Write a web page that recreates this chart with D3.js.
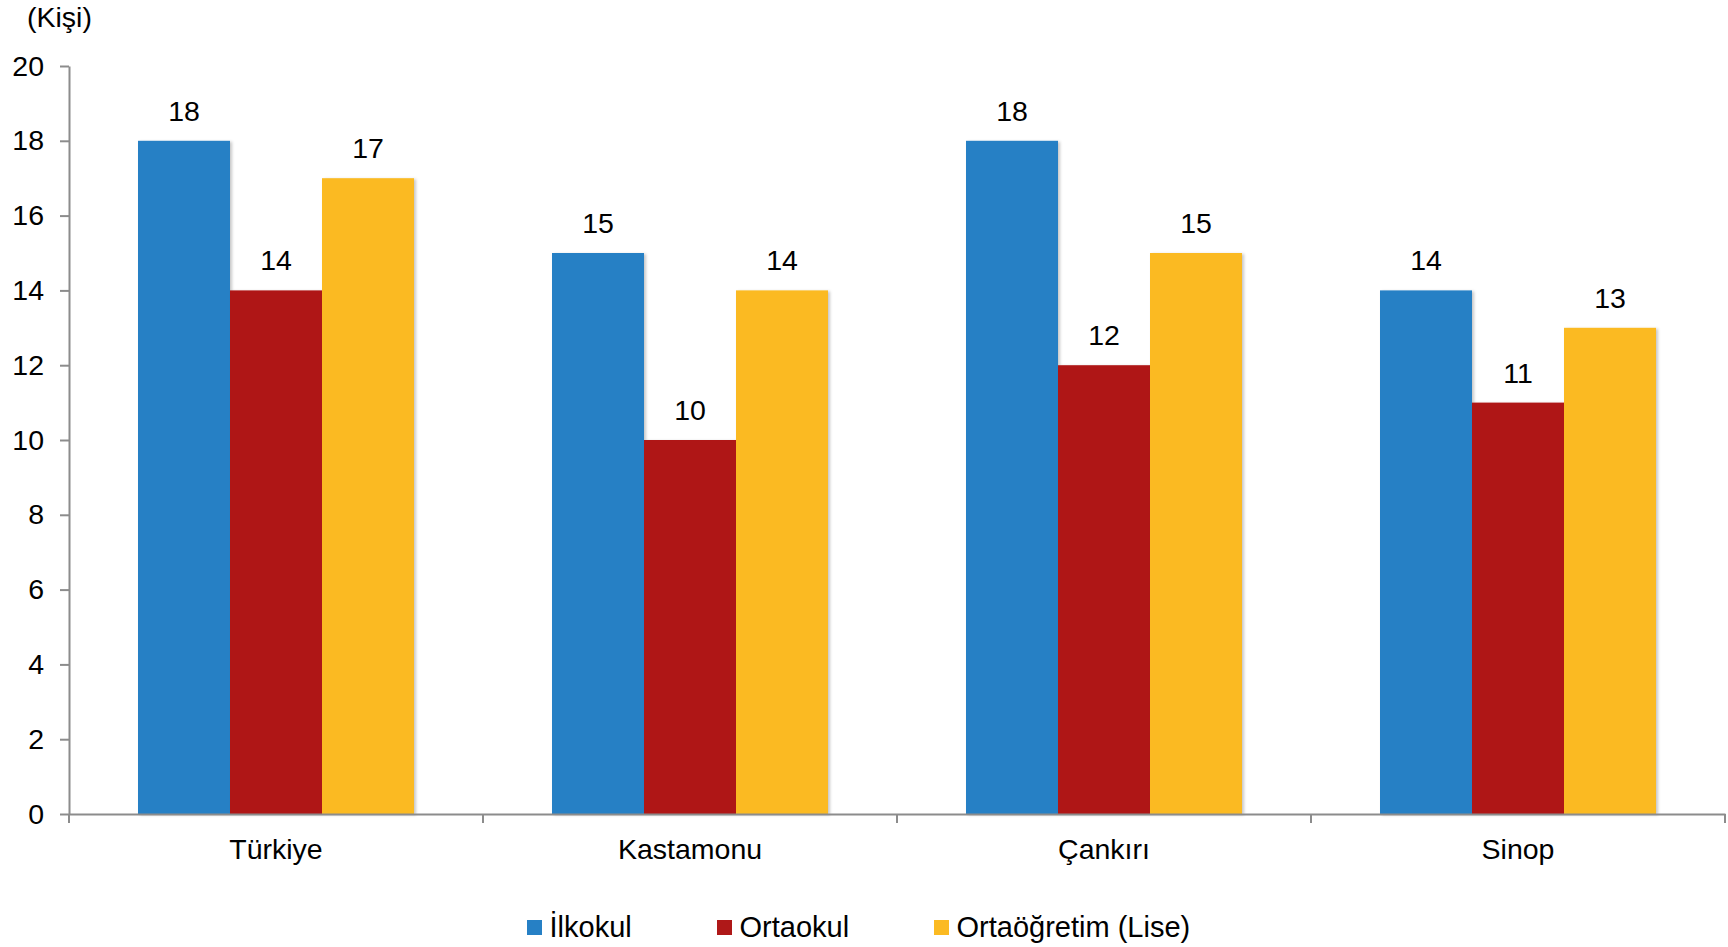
<!DOCTYPE html>
<html>
<head>
<meta charset="utf-8">
<script src="https://cdn.jsdelivr.net/npm/d3@7"></script>
<style>
  html, body { margin: 0; padding: 0; background: #fff; }
  svg { display: block; font-family: "Liberation Sans", Arial, sans-serif; }
</style>
</head>
<body>
<svg id="chart" width="1728" height="947"></svg>
<script>
const categories = ["Türkiye", "Kastamonu", "Çankırı", "Sinop"];
const seriesNames = ["İlkokul", "Ortaokul", "Ortaöğretim (Lise)"];
const ilkokul = [18, 15, 18, 14];
const ortaokul = [14, 10, 12, 11];
const ortaogretim = [17, 14, 15, 13];
const yTicks = [0, 2, 4, 6, 8, 10, 12, 14, 16, 18, 20];
const colors = ["#2680C5", "#AF1818", "#FBBA22"];
const unitLabel = "(Kişi)";

const seriesValues = [ilkokul, ortaokul, ortaogretim];
const rows = categories.map((c, i) => ({
  cat: c,
  vals: seriesNames.map((s, j) => ({ key: s, value: seriesValues[j][i], idx: j }))
}));

const svg = d3.select("#chart");
const axisColor = "#8C8C8C";
const fontSize = 28.5;

const x0 = d3.scaleBand().domain(categories).range([69, 1725]).padding(0);
const bw = x0.bandwidth();
const x1 = d3.scaleBand().domain(seriesNames).range([bw / 6, bw * 5 / 6]).padding(0);
const y = d3.scaleLinear().domain([0, 20]).range([814, 66]);

const defs = svg.append("defs");
const f = defs.append("filter").attr("id", "shadow").attr("x", "-10%").attr("y", "-10%").attr("width", "130%").attr("height", "130%");
f.append("feDropShadow").attr("dx", 2).attr("dy", 1).attr("stdDeviation", 1.5)
  .attr("flood-color", "#000").attr("flood-opacity", 0.22);

// Bars
const groups = svg.append("g").selectAll("g").data(rows).join("g")
  .attr("transform", d => `translate(${x0(d.cat)},0)`);

groups.selectAll("rect").data(d => d.vals).join("rect")
  .attr("x", d => x1(d.key))
  .attr("y", d => y(d.value))
  .attr("width", x1.bandwidth())
  .attr("height", d => y(0) - y(d.value))
  .attr("fill", d => colors[d.idx])
  .attr("filter", "url(#shadow)");

groups.selectAll("text").data(d => d.vals).join("text")
  .attr("x", d => x1(d.key) + x1.bandwidth() / 2)
  .attr("y", d => y(d.value) - 20)
  .attr("text-anchor", "middle")
  .attr("font-size", fontSize)
  .attr("fill", "#000")
  .text(d => d.value);

// Y axis
const yAxis = svg.append("g").attr("transform", "translate(69,0)")
  .call(d3.axisLeft(y).tickValues(yTicks).tickSize(9).tickPadding(16).tickSizeOuter(0));
yAxis.select(".domain").attr("stroke", axisColor).attr("stroke-width", 2);
yAxis.selectAll(".tick line").attr("stroke", axisColor).attr("stroke-width", 2);
yAxis.selectAll(".tick text").attr("font-size", fontSize).attr("fill", "#000")
  .attr("font-family", "Liberation Sans, Arial, sans-serif");

// X axis
const xAxis = svg.append("g").attr("transform", "translate(0,814)")
  .call(d3.axisBottom(x0).tickSize(0).tickPadding(0));
xAxis.select(".domain").attr("stroke", axisColor).attr("stroke-width", 2);
xAxis.selectAll(".tick text").attr("font-size", fontSize).attr("fill", "#000")
  .attr("font-family", "Liberation Sans, Arial, sans-serif")
  .attr("dy", 0).attr("y", 45);
// category boundary ticks
const boundaries = categories.map(c => x0(c)).concat([x0(categories[categories.length - 1]) + bw]);
xAxis.selectAll("line.bound").data(boundaries).join("line")
  .attr("class", "bound")
  .attr("x1", d => d).attr("x2", d => d)
  .attr("y1", 0).attr("y2", 9)
  .attr("stroke", axisColor).attr("stroke-width", 2);

// Unit label
svg.append("text").attr("x", 27).attr("y", 27)
  .attr("font-size", fontSize).attr("fill", "#000").text(unitLabel);

// Legend
const legendX = [527, 717, 934];
const legend = svg.append("g");
const li = legend.selectAll("g").data(seriesNames).join("g")
  .attr("transform", (d, i) => `translate(${legendX[i]},0)`);
li.append("rect").attr("x", 0).attr("y", 920).attr("width", 15).attr("height", 15)
  .attr("fill", (d, i) => colors[i]);
li.append("text").attr("x", 22.5).attr("y", 937)
  .attr("font-size", 29).attr("fill", "#000").text(d => d);
</script>
</body>
</html>
